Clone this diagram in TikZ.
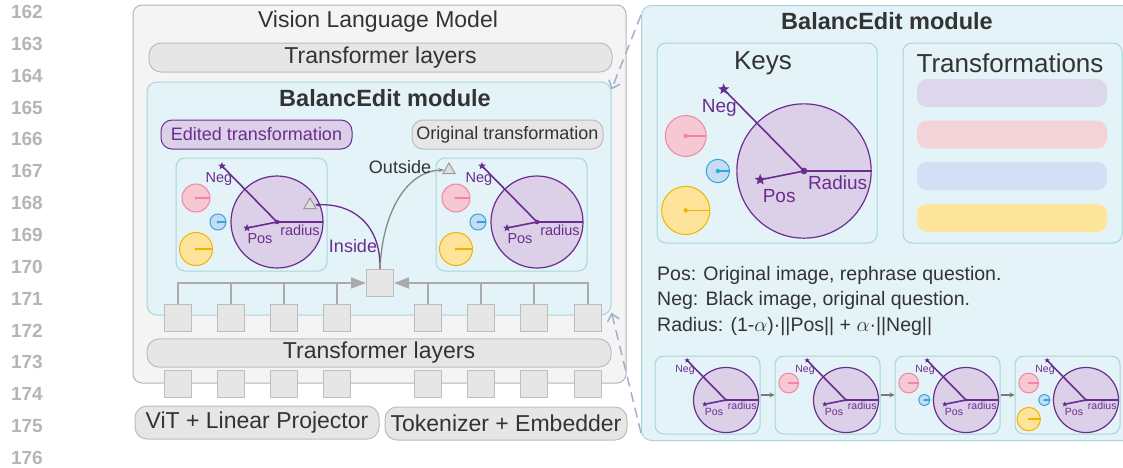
\documentclass[tikz,border=0pt]{standalone}
\usepackage{fontspec}
\setmainfont{Liberation Sans}
\usetikzlibrary{arrows.meta, shapes.geometric, positioning}

\definecolor{ink}{HTML}{333333}
\definecolor{numgray}{HTML}{B5B5B5}
\definecolor{vlmfill}{HTML}{F4F4F4}
\definecolor{vlmline}{HTML}{B5B5B5}
\definecolor{barfill}{HTML}{E6E6E6}
\definecolor{barline}{HTML}{BDBDBD}
\definecolor{modfill}{HTML}{E3F3F7}
\definecolor{modline}{HTML}{A8D6D8}
\definecolor{keypurple}{HTML}{6A2D8F}
\definecolor{keyfill}{HTML}{DCD0E8}
\definecolor{keypink}{HTML}{F6C9D2}
\definecolor{keypinkline}{HTML}{F383A8}
\definecolor{keyblue}{HTML}{C8DBF5}
\definecolor{keyblueline}{HTML}{2BA8E0}
\definecolor{keyyellow}{HTML}{FEE49A}
\definecolor{keyyellowline}{HTML}{F2B300}
\definecolor{busgray}{HTML}{ABABAB}
\definecolor{probefill}{HTML}{DDDDDD}
\definecolor{probeline}{HTML}{9A9A9A}
\definecolor{zoomblue}{HTML}{9DB2CD}
\definecolor{barlav}{HTML}{DCD7EB}
\definecolor{barpink}{HTML}{F2D3D7}
\definecolor{barblue}{HTML}{D1E0F5}
\definecolor{baryellow}{HTML}{FDE59B}

\newcommand{\fsz}[1]{\fontsize{#1}{#1}\selectfont}

\tikzset{
  vlmbox/.style={draw=vlmline, fill=vlmfill, rounded corners=9pt, line width=1pt},
  layerbar/.style={draw=barline, fill=barfill, rounded corners=12pt, line width=1pt,
    text=ink, font=\fsz{23}},
  modulebox/.style={draw=modline, fill=modfill, rounded corners=10pt, line width=1pt},
  keybox/.style={draw=modline, fill=modfill, rounded corners=9pt, line width=1pt},
  token/.style={draw=barline, fill=barfill, minimum size=27pt, inner sep=0pt, line width=1pt},
  bus/.style={draw=busgray, line width=1.5pt},
  tag/.style={rounded corners=11pt, line width=1pt, minimum width=191pt,
    minimum height=29pt, inner sep=0pt, font=\fsz{18}},
  keyball/.style={fill=keyfill, draw=keypurple, line width=1.2pt},
  keyarm/.style={draw=keypurple, line width=1.6pt},
  keystar/.style={star, star points=5, star point ratio=2.3, fill=keypurple, inner sep=0pt},
  keylabel/.style={text=keypurple, inner sep=0pt},
  probe/.style={regular polygon, regular polygon sides=3, draw=probeline, fill=probefill,
    line width=1pt, minimum size=14pt, inner sep=0pt},
  zoomline/.style={draw=zoomblue, line width=1.5pt, dash pattern=on 10pt off 6pt,
    -{Straight Barb[length=7pt,width=12pt]}},
  linenum/.style={text=numgray, font=\bfseries\fsz{19}, anchor=east, inner sep=0pt},
}

% one small key: centre, radius, colour
\newcommand{\smallkey}[3]{%
  \filldraw[fill=#3, draw=#3line, line width=1pt] (#1) circle[radius=#2];
  \draw[#3line, line width=1.3pt] (#1) -- ++(#2,0);
  \fill[#3line] (#1) circle[radius=1.5];}

% key set: name, centre, scale, label size, radius word, number of small keys
\newcommand{\keymap}[6]{%
  \begin{scope}[shift={(#2)}, scale=#3]
    \ifnum#6>0 \smallkey{-81,-24}{14}{keypink}\fi
    \ifnum#6>1 \smallkey{-59,0}{8}{keyblue}\fi
    \ifnum#6>2 \smallkey{-81,27}{16.5}{keyyellow}\fi
    \filldraw[keyball] (0,0) circle[radius=46];
    \coordinate (#1-c) at (0,0);
    \coordinate (#1-edge) at (46,0);
    \coordinate (#1-negtip) at (-55,-56);
    \coordinate (#1-postip) at (-30,6);
    \draw[keyarm] (#1-c) -- (#1-negtip);
    \draw[keyarm] (#1-c) -- (#1-postip);
    \draw[keyarm, line width=1.3pt] (#1-c) -- (#1-edge);
    \node[keystar, minimum size={8*#3}] (#1-negstar) at (#1-negtip) {};
    \node[keystar, minimum size={8*#3}] (#1-posstar) at (#1-postip) {};
    \fill[keypurple] (#1-c) circle[radius=2.3];
    \node[keylabel, font=\fsz{#4}] (#1-neg) at (-58,-43) {Neg};
    \node[keylabel, font=\fsz{#4}] (#1-pos) at (-17,17) {Pos};
    \node[keylabel, font=\fsz{#4}] (#1-rad) at (23,8) {#5};
  \end{scope}}

\begin{document}
\begin{tikzpicture}[x=1pt, y=-1pt]
  \path[use as bounding box, fill=white] (0,0) rectangle (1123,467);

  % line numbers of the page
  \foreach \n [count=\i from 0] in {162,...,176}
    \node[linenum] (ln\n) at (43, {12+31.86*\i}) {\n};

  % vision language model
  \node[vlmbox, minimum width=493, minimum height=378] (vlm) at (379.5,194) {};
  \node[font=\fsz{23}, text=ink] (vlmtitle) at (378,22) {Vision Language Model};
  \node[layerbar, minimum width=463, minimum height=29] (toplayers) at (380.5,57.5) {Transformer layers};

  % BalancEdit module inside the model
  \node[modulebox, minimum width=464, minimum height=233] (lmodule) at (379,198.5) {};
  \node[font=\bfseries\fsz{23.5}, text=ink] (ltitle) at (385,98) {BalancEdit module};
  \node[tag, draw=keypurple, fill=keyfill, text=keypurple] (edited) at (256.5,134.5) {Edited transformation};
  \node[tag, draw=barline, fill=barfill, text=ink] (original) at (507.5,134.5) {Original transformation};
  \node[keybox, minimum width=151, minimum height=113] (editedkeys) at (251.5,214.5) {};
  \node[keybox, minimum width=151, minimum height=113] (originalkeys) at (511.5,214.5) {};
  \keymap{ek}{277,222}{1}{14.5}{radius}{3}
  \keymap{ok}{537,222}{1}{14.5}{radius}{3}
  \node[probe] (trin) at (310,205) {};
  \node[probe] (trout) at (449,170) {};

  % tokens pooled into one query
  \foreach \x [count=\i] in {178,231,284,337,428,481,534,588}
    \node[token] (t\i) at (\x,317.5) {};
  \node[token] (agg) at (380,283) {};
  \draw[bus, -{Triangle[length=15pt,width=11pt]}] (t1.north) |- (agg.west);
  \draw[bus, -{Triangle[length=15pt,width=11pt]}] (t8.north) |- (agg.east);
  \foreach \i in {2,3,4,5,6,7}
    \draw[bus] (t\i.north) -- (t\i.north |- agg.west);

  % inside / outside test
  \draw[keypurple, line width=1.3pt, -{Stealth[length=6pt,width=4pt]}]
    (agg.north) .. controls (381,222) and (350,203) .. (trin.east);
  \draw[busgray!80!black, line width=1.3pt, -{Stealth[length=6pt,width=4pt]}]
    (agg.north) .. controls (382,215) and (405,171) .. (trout.west);
  \node[text=keypurple, font=\fsz{18}] (insidelbl) at (353,246) {Inside};
  \node[text=ink, font=\fsz{18}] (outsidelbl) at (400,167) {Outside};

  % lower layers and inputs
  \node[layerbar, minimum width=464, minimum height=28] (botlayers) at (379,353) {Transformer layers};
  \foreach \x [count=\i] in {178,231,284,337,428,481,534,588}
    \node[token] (b\i) at (\x,384) {};
  \node[layerbar, minimum width=244, minimum height=33] (vit) at (257,422.5) {ViT + Linear Projector};
  \node[layerbar, minimum width=242, minimum height=33] (tok) at (506,423.5) {Tokenizer + Embedder};

  % BalancEdit module in detail
  \node[modulebox, minimum width=500, minimum height=435, anchor=north west] (rmodule) at (641,5) {};
  \node[font=\bfseries\fsz{23.5}, text=ink] (rtitle) at (887,21) {BalancEdit module};
  \node[keybox, minimum width=220, minimum height=200] (keys) at (767,143) {};
  \node[font=\fsz{26}, text=ink] (keystitle) at (763,63) {Keys};
  \node[keybox, minimum width=219, minimum height=200] (transf) at (1012.5,143) {};
  \node[font=\fsz{26}, text=ink] (transftitle) at (1010,63) {Transformations};
  \foreach \y/\c [count=\i] in {93/barlav,134.5/barpink,176/barblue,218/baryellow}
    \node[fill=\c, rounded corners=10pt, minimum width=190, minimum height=28] (tf\i) at (1012,\y) {};
  \keymap{rk}{804,171}{1.46}{19}{Radius}{3}

  % definitions
  \node[anchor=base west, font=\fsz{19.5}, text=ink, inner sep=0pt] (posdef) at (657,280)
    {Pos: Original image, rephrase question.};
  \node[anchor=base west, font=\fsz{19.5}, text=ink, inner sep=0pt] (negdef) at (657,305.5)
    {Neg: Black image, original question.};
  \node[anchor=base west, font=\fsz{19.5}, text=ink, inner sep=0pt] (raddef) at (657,331)
    {Radius: (1-$\alpha$)·||Pos|| + $\alpha$·||Neg||};

  % growing key set
  \foreach \i in {0,1,2,3} {
    \node[keybox, minimum width=105, minimum height=78] (seq\i) at ({707.5+120*\i},395) {};
    \keymap{s\i}{{726+120*\i},400}{0.707}{10.5}{radius}{\i}
  }
  \foreach \i/\j in {0/1,1/2,2/3}
    \draw[draw=busgray!70!black, line width=1.2pt, -{Stealth[length=5pt,width=5pt]}] (seq\i) -- (seq\j);

  % links to the detail view
  \draw[zoomline] ([yshift=-10pt]rmodule.north west) -- ([yshift=-8pt]lmodule.north east);
  \draw[zoomline] ([yshift=8pt]rmodule.south west) -- ([yshift=3pt]lmodule.south east);
\end{tikzpicture}
\end{document}
